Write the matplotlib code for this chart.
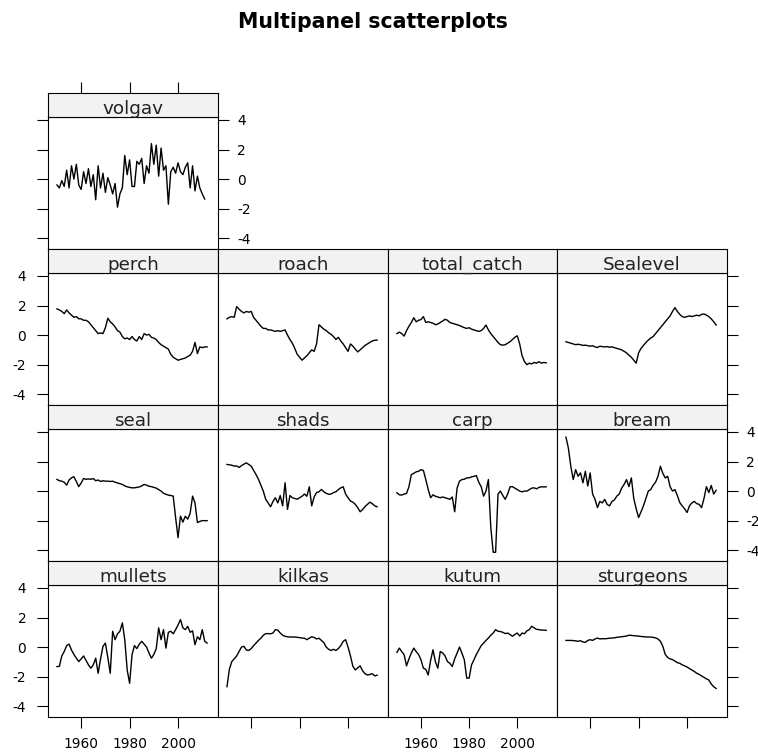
import numpy as np
import matplotlib
matplotlib.use('Agg')
import matplotlib.pyplot as plt

plt.rcParams['axes.unicode_minus'] = False
plt.rcParams['font.family'] = ['DejaVu Sans']

years = np.arange(1950, 2013)
nan = np.nan

volgav = [-0.4, -0.6, -0.1, -0.5, 0.6, -0.6, 0.9, 0.0, 1.0, -0.4,
          -0.7, 0.5, -0.3, 0.7, -0.5, 0.3, -1.4, 0.9, -0.6, 0.4,
          -0.9, 0.1, -0.4, -1.0, -0.3, -1.9, -1.0, -0.6, 1.6, 0.3,
          1.3, -0.5, -0.5, 1.2, 1.0, 1.4, -0.3, 0.9, 0.4, 2.4,
          1.0, 2.3, 0.2, 2.1, 0.6, 0.9, -1.7, 0.5, 0.8, 0.4,
          1.1, 0.5, 0.3, 0.8, 1.1, -0.6, 0.9, -0.8, 0.2, -0.6,
          -1.0, -1.35, nan]
perch = [1.77, 1.7, 1.6, 1.45, 1.7, 1.5, 1.35, 1.2, 1.25, 1.1,
         1.1, 1.0, 1.0, 0.9, 0.7, 0.5, 0.3, 0.1, 0.15, 0.1,
         0.5, 1.14, 0.9, 0.75, 0.55, 0.3, 0.2, -0.1, -0.25, -0.2,
         -0.3, -0.1, -0.3, -0.4, -0.1, -0.3, 0.1, 0.0, 0.05, -0.15,
         -0.2, -0.3, -0.5, -0.65, -0.75, -0.85, -0.95, -1.3, -1.5, -1.6,
         -1.7, -1.65, -1.6, -1.55, -1.45, -1.35, -1.1, -0.5, -1.25, -0.8,
         -0.85, -0.8, -0.8]
roach = [1.1, 1.2, 1.25, 1.2, 1.93, 1.75, 1.6, 1.5, 1.6, 1.55,
         1.6, 1.2, 1.0, 0.8, 0.6, 0.45, 0.45, 0.35, 0.35, 0.3,
         0.25, 0.3, 0.25, 0.3, 0.35, 0.0, -0.3, -0.55, -0.9, -1.3,
         -1.5, -1.7, -1.55, -1.4, -1.2, -1.0, -1.1, -0.6, 0.7, 0.55,
         0.4, 0.3, 0.15, 0.05, -0.1, -0.3, -0.15, -0.4, -0.6, -0.85,
         -1.1, -0.6, -0.75, -0.95, -1.14, -1.0, -0.85, -0.7, -0.6, -0.5,
         -0.4, -0.35, -0.34]
total_catch = [0.1, 0.2, 0.1, -0.07, 0.3, 0.6, 0.85, 1.18, 0.9, 1.0,
               1.05, 1.25, 0.85, 0.9, 0.85, 0.8, 0.7, 0.75, 0.85, 0.95,
               1.07, 1.0, 0.85, 0.8, 0.75, 0.7, 0.65, 0.57, 0.5, 0.45,
               0.5, 0.4, 0.35, 0.3, 0.25, 0.3, 0.45, 0.68, 0.35, 0.1,
               -0.1, -0.3, -0.5, -0.65, -0.68, -0.65, -0.55, -0.45, -0.3, -0.15,
               -0.05, -0.6, -1.4, -1.8, -2.0, -1.9, -1.95, -1.85, -1.9, -1.8,
               -1.9, -1.85, -1.88]
sealevel = [-0.45, -0.5, -0.55, -0.6, -0.65, -0.62, -0.65, -0.7, -0.68, -0.72,
            -0.75, -0.72, -0.8, -0.84, -0.75, -0.78, -0.8, -0.78, -0.82, -0.8,
            -0.85, -0.9, -0.95, -1.0, -1.1, -1.2, -1.36, -1.5, -1.7, -1.9,
            -1.2, -0.9, -0.7, -0.5, -0.34, -0.2, -0.1, 0.1, 0.3, 0.5,
            0.7, 0.9, 1.1, 1.3, 1.6, 1.86, 1.6, 1.4, 1.25, 1.2,
            1.25, 1.3, 1.25, 1.3, 1.35, 1.3, 1.4, 1.43, 1.35, 1.25,
            1.1, 0.9, 0.68]
seal = [0.79, 0.7, 0.67, 0.6, 0.4, 0.75, 0.9, 0.97, 0.65, 0.3,
        0.55, 0.85, 0.8, 0.82, 0.8, 0.85, 0.7, 0.75, 0.65, 0.7,
        0.67, 0.67, 0.65, 0.67, 0.6, 0.55, 0.5, 0.45, 0.35, 0.29,
        0.25, 0.22, 0.22, 0.25, 0.28, 0.35, 0.45, 0.4, 0.33, 0.3,
        0.25, 0.2, 0.1, 0.0, -0.15, -0.22, -0.27, -0.3, -0.34, -1.8,
        -3.15, -1.69, -2.1, -1.7, -1.9, -1.5, -0.34, -0.8, -2.13, -2.05,
        -2.0, -2.0, -2.0]
shads = [1.8, 1.78, 1.75, 1.69, 1.7, 1.6, 1.72, 1.82, 1.91, 1.8,
         1.69, 1.4, 1.12, 0.8, 0.4, 0.0, -0.56, -0.8, -1.06, -0.7,
         -0.45, -0.8, -0.3, -1.0, 0.56, -1.24, -0.3, -0.45, -0.5, -0.55,
         -0.45, -0.35, -0.2, -0.35, 0.29, -1.0, -0.4, -0.1, -0.05, 0.11,
         -0.05, -0.15, -0.22, -0.2, -0.1, -0.05, 0.1, 0.22, 0.29, -0.2,
         -0.45, -0.67, -0.75, -0.9, -1.12, -1.4, -1.25, -1.05, -0.9, -0.75,
         -0.85, -1.0, -1.06]
carp = [-0.11, -0.25, -0.27, -0.2, -0.16, 0.3, 1.12, 1.2, 1.3, 1.34,
        1.45, 1.4, 0.78, 0.11, -0.45, -0.25, -0.35, -0.4, -0.45, -0.4,
        -0.45, -0.5, -0.56, -0.4, -1.4, 0.2, 0.67, 0.78, 0.8, 0.89,
        0.9, 0.96, 1.0, 1.05, 0.6, 0.3, -0.34, 0.0, 0.78, -2.46,
        -4.14, -4.14, -0.2, 0.0, -0.3, -0.56, -0.2, 0.29, 0.3, 0.2,
        0.1, 0.0, -0.05, 0.0, 0.0, 0.1, 0.2, 0.22, 0.15, 0.25,
        0.29, 0.28, 0.29]
bream = [3.65, 2.9, 1.68, 0.78, 1.45, 1.0, 1.23, 0.56, 1.34, 0.34,
         1.23, -0.2, -0.56, -1.12, -0.7, -0.8, -0.56, -0.9, -1.0, -0.7,
         -0.6, -0.34, -0.2, 0.2, 0.45, 0.78, 0.3, 0.89, -0.5, -1.2,
         -1.79, -1.4, -1.0, -0.5, 0.0, 0.1, 0.4, 0.6, 1.0, 1.68,
         1.2, 0.89, 1.0, 0.3, 0.0, 0.1, -0.3, -0.78, -1.0, -1.2,
         -1.45, -1.0, -0.8, -0.7, -0.85, -0.9, -1.12, -0.5, 0.3, -0.1,
         0.38, -0.2, 0.05]
mullets = [-1.32, -1.3, -0.6, -0.3, 0.1, 0.2, -0.2, -0.5, -0.75, -0.98,
           -0.8, -0.6, -0.9, -1.2, -1.43, -1.2, -0.75, -1.77, -0.8, 0.05,
           0.27, -0.7, -1.77, 1.07, 0.5, 0.9, 1.07, 1.64, 0.5, -1.55,
           -2.45, -0.52, 0.1, -0.1, 0.2, 0.39, 0.2, 0.0, -0.4, -0.75,
           -0.5, -0.1, 1.3, 0.5, 1.18, -0.07, 1.0, 1.07, 0.9, 1.18,
           1.5, 1.86, 1.3, 1.18, 1.4, 1.0, 1.1, 0.16, 0.7, 0.5,
           1.18, 0.4, 0.27]
kilkas = [-2.68, -1.5, -0.98, -0.8, -0.6, -0.3, 0.0, 0.05, -0.2, -0.23,
          -0.1, 0.1, 0.27, 0.45, 0.6, 0.8, 0.91, 0.91, 0.9, 0.95,
          1.18, 1.15, 0.95, 0.8, 0.73, 0.7, 0.68, 0.68, 0.68, 0.66,
          0.64, 0.61, 0.6, 0.5, 0.6, 0.7, 0.65, 0.55, 0.6, 0.45,
          0.3, 0.0, -0.15, -0.23, -0.15, -0.23, -0.1, 0.1, 0.39, 0.5,
          0.0, -0.6, -1.3, -1.55, -1.4, -1.27, -1.6, -1.8, -1.89, -1.85,
          -1.8, -1.95, -1.9]
kutum = [-0.36, -0.07, -0.3, -0.52, -1.27, -0.8, -0.4, -0.07, -0.3, -0.5,
         -0.86, -1.43, -1.5, -1.89, -0.9, -0.18, -1.0, -1.43, -0.3, -0.4,
         -0.6, -0.98, -1.1, -1.32, -0.8, -0.4, 0.0, -0.41, -0.86, -2.1,
         -2.1, -1.2, -0.86, -0.5, -0.2, 0.1, 0.27, 0.45, 0.61, 0.8,
         0.95, 1.18, 1.07, 1.05, 1.0, 0.91, 0.95, 0.85, 0.73, 0.85,
         0.95, 0.75, 0.95, 0.9, 1.1, 1.18, 1.41, 1.3, 1.2, 1.18,
         1.15, 1.15, 1.13]
sturgeons = [0.45, 0.45, 0.45, 0.44, 0.42, 0.39, 0.43, 0.35, 0.32, 0.45,
             0.5, 0.45, 0.55, 0.61, 0.55, 0.57, 0.56, 0.58, 0.6, 0.61,
             0.63, 0.66, 0.68, 0.7, 0.72, 0.75, 0.8, 0.79, 0.77, 0.76,
             0.74, 0.72, 0.7, 0.69, 0.68, 0.68, 0.66, 0.62, 0.55, 0.39,
             0.05, -0.5, -0.7, -0.8, -0.85, -0.95, -1.05, -1.1, -1.2, -1.27,
             -1.35, -1.45, -1.55, -1.65, -1.77, -1.85, -1.95, -2.05, -2.15, -2.23,
             -2.5, -2.68, -2.8]

# panel grid, top row first (lattice layout 4 x 4, only volgav in the top row)
panels = [
    [('volgav', volgav)],
    [('perch', perch), ('roach', roach), ('total_catch', total_catch), ('Sealevel', sealevel)],
    [('seal', seal), ('shads', shads), ('carp', carp), ('bream', bream)],
    [('mullets', mullets), ('kilkas', kilkas), ('kutum', kutum), ('sturgeons', sturgeons)],
]

W, H = 758, 755
fig = plt.figure(figsize=(W / 100, H / 100), dpi=100)

# pixel edges, snapped so neighbouring frames overlap exactly
col_edges = [48, 218, 388, 557, 727]
row_tops = [93, 249, 405, 561]
striph, panelh = 24, 132
xlim = (1946.3, 2016.5)
ylim = (-4.73, 4.2)
xt = [1960, 1980, 2000]
yt = [-4, -2, 0, 2, 4]
tick_len = 7.6
lw_frame = 0.8


def fig_box(left, top, w, h):
    return [left / W, 1 - (top + h) / H, w / W, h / H]


for r, row in enumerate(panels):
    for c, (name, vals) in enumerate(row):
        left = col_edges[c]
        colw = col_edges[c + 1] - col_edges[c]
        stop = row_tops[r]
        ax = fig.add_axes(fig_box(left, stop + striph, colw, panelh))
        sax = fig.add_axes(fig_box(left, stop, colw, striph))

        ax.plot(years, vals, color='black', lw=1.0)
        ax.set_xlim(xlim)
        ax.set_ylim(ylim)
        for sp in ax.spines.values():
            sp.set_linewidth(lw_frame)

        last = (c == len(row) - 1)
        lab_left = (c == 0 and r % 2 == 1)
        lab_right = (last and r % 2 == 0)
        ax.set_xticks(xt)
        ax.set_yticks(yt)
        ax.set_xticklabels([str(v) for v in xt])
        ax.set_yticklabels([str(v) for v in yt])
        ax.tick_params(direction='out', length=tick_len, width=lw_frame,
                       labelsize=9.9, colors='black')
        ax.tick_params(axis='y', left=(c == 0), labelleft=lab_left,
                       right=last, labelright=lab_right,
                       pad=8 if lab_left else 6)
        ax.tick_params(axis='x', top=False, labeltop=False,
                       bottom=(r == 3), labelbottom=(r == 3 and c % 2 == 0), pad=7)

        # strip
        sax.set_facecolor('#f2f2f2')
        sax.set_xlim(xlim)
        sax.set_ylim(0, 1)
        for sp in sax.spines.values():
            sp.set_linewidth(lw_frame)
        sax.set_yticks([])
        if r == 0:
            sax.set_xticks(xt)
            sax.tick_params(axis='x', direction='out', length=tick_len, width=lw_frame,
                            bottom=False, labelbottom=False, top=True, labeltop=False)
        else:
            sax.set_xticks([])
        sax.text(0.5, 0.14, name, transform=sax.transAxes, ha='center',
                 va='baseline', fontsize=13.2, color='#222222')

fig.text(372.5 / W, 1 - 27.7 / H, 'Multipanel scatterplots', ha='center',
         va='baseline', fontsize=14.8, fontweight='bold')

fig.savefig('out.png', dpi=100)
